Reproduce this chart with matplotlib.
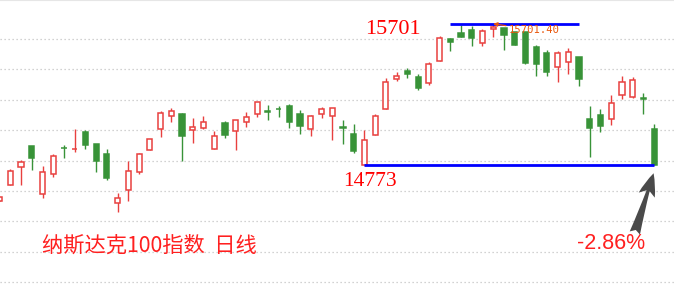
import matplotlib
matplotlib.use("Agg")
import matplotlib.pyplot as plt
import numpy as np

# Nasdaq 100 daily OHLC
opens = [14531, 14637, 14755, 14896, 14577, 14709, 14882, 14873, 14988, 14909,
         14843, 14518, 14606, 14722, 14867, 15006, 15092, 15107, 15003, 15016,
         14878, 15047, 14997, 15056, 15105, 15124, 15139, 15160, 15107, 15010,
         15105, 15092, 15018, 14975, 14773, 14970, 15138, 15340, 15392, 15351,
         15309, 15458, 15601, 15643, 15661, 15577, 15665, 15672, 15646, 15648,
         15549, 15509, 15419, 15452, 15483, 15074, 15100, 15072, 15230, 15219,
         15210, 15008]
highs = [14562, 14742, 14802, 14896, 14762, 14841, 14902, 15008, 14999, 14909,
         14876, 14584, 14799, 14850, 14940, 15127, 15144, 15113, 15080, 15094,
         14995, 15061, 15065, 15120, 15184, 15166, 15160, 15173, 15133, 15102,
         15153, 15144, 15067, 15041, 15001, 15107, 15342, 15384, 15410, 15371,
         15450, 15621, 15608, 15696, 15687, 15667, 15701.4, 15672, 15646, 15648,
         15564, 15529, 15522, 15542, 15483, 15160, 15140, 15230, 15357, 15351,
         15245, 15041]
lows = [14531, 14637, 14641, 14740, 14555, 14693, 14819, 14854, 14878, 14726,
        14672, 14463, 14535, 14713, 14867, 14953, 15056, 14795, 14918, 15008,
        14878, 14951, 14869, 15023, 15089, 15067, 15087, 15015, 14975, 14964,
        15082, 14935, 14909, 14852, 14773, 14970, 15138, 15326, 15346, 15267,
        15300, 15458, 15524, 15617, 15557, 15557, 15617, 15529, 15564, 15437,
        15359, 15359, 15320, 15373, 15293, 14825, 14990, 15036, 15204, 15214,
        15109, 14773]
closes = [14562, 14729, 14788, 14819, 14722, 14828, 14880, 14875, 14904, 14799,
          14687, 14551, 14729, 14841, 14940, 15111, 15125, 14964, 15019, 15052,
          14960, 14968, 15065, 15085, 15184, 15120, 15137, 15056, 15030, 15092,
          15138, 15144, 15014, 14865, 14935, 15094, 15318, 15357, 15373, 15280,
          15435, 15608, 15584, 15617, 15610, 15654, 15679, 15624, 15564, 15445,
          15439, 15386, 15507, 15514, 15340, 15016, 15030, 15177, 15318, 15331,
          15208, 14773]

title_text = "纳斯达克100指数  日线"
range_start = 30  # bars used for the recent high/low range

UP = "#e8403f"
DOWN = "#389338"
GRID = "#c4c4c4"

o = np.array(opens, float)
h = np.array(highs, float)
l = np.array(lows, float)
c = np.array(closes, float)
x = np.arange(len(o))
up = c >= o

fig = plt.figure(figsize=(6.74, 2.89), dpi=100)
ax = fig.add_axes([0, 0, 1, 1])
ax.set_xlim(0.037, 62.85)
ax.set_ylim(13953, 15858)
ax.axis("off")

# dotted price grid
for lvl in range(14000, 15601, 200):
    ax.axhline(lvl, color=GRID, lw=0.9, ls=(0, (1, 2.2)), zorder=0)

# thin top border
ax.axhline(15858, color="#e6e6e6", lw=1.5, zorder=0)

colors = np.where(up, UP, DOWN)
ax.vlines(x, l, h, colors=colors, lw=1.0, zorder=1)
body_lo = np.minimum(o, c)
body_h = np.maximum(np.abs(c - o), 1.0)
faces = np.where(up, "white", DOWN)
ax.bar(x, body_h, bottom=body_lo, width=0.48, color=faces,
       edgecolor=colors, linewidth=1.1, zorder=2)

# recent range high / low
i_hi = range_start + int(np.argmax(h[range_start:]))
i_lo = range_start + int(np.argmin(l[range_start:]))
hi, lo = h[i_hi], l[i_lo]
ax.plot([42, 54], [hi, hi], color="#0000ff", lw=2.0, zorder=3,
        solid_capstyle="butt")
ax.plot([i_lo, x[-1]], [lo, lo], color="#0000ff", lw=2.0, zorder=3,
        solid_capstyle="butt")

ax.text(34.05, 15634, f"{int(hi)}", color="#ff0000", fontsize=16,
        family="Liberation Serif", ha="left", va="baseline", zorder=4)
ax.text(32.0, 14634, f"{int(lo)}", color="#ff0000", fontsize=15.5,
        family="Liberation Serif", ha="left", va="baseline", zorder=4)

# marker on the highest print
ax.annotate(f"{hi:.2f}", xy=(i_hi, hi), xytext=(47.45, 15661),
            color="#e8560c", fontsize=7.6, family="DejaVu Sans Mono",
            ha="left", va="center", zorder=5,
            arrowprops=dict(arrowstyle="-|>", color="#e8560c", lw=0.9,
                            mutation_scale=6, shrinkA=0, shrinkB=0))

# last day change
pct = (c[-1] / c[-2] - 1) * 100
ax.annotate("", xy=(x[-1] - 0.05, 14716), xytext=(59.2, 14322),
            arrowprops=dict(arrowstyle="fancy,head_length=0.75,head_width=0.55,tail_width=0.35",
                            mutation_scale=22, color="#4a4a4a", lw=0,
                            shrinkA=0, shrinkB=0),
            zorder=5)
ax.text(53.84, 14215, f"{pct:.2f}%", color="#ff2020", fontsize=15.5,
        family="Liberation Sans", ha="left", va="baseline", zorder=4)

ax.text(3.92, 14199, title_text, color="#ff2020", fontsize=15.3,
        family=["Noto Sans CJK SC", "DejaVu Sans"], ha="left",
        va="baseline", zorder=4)

fig.savefig("out.png", dpi=100)
